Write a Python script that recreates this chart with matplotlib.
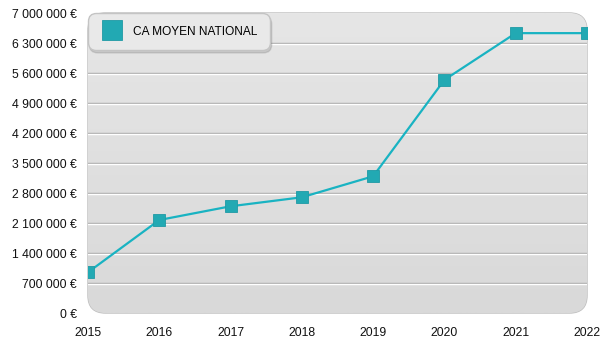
import numpy as np
import matplotlib
matplotlib.use("Agg")
import matplotlib.pyplot as plt
from matplotlib.patches import FancyBboxPatch
from matplotlib.transforms import offset_copy
from matplotlib.ticker import FuncFormatter

plt.rcParams['font.family'] = ['Liberation Sans', 'DejaVu Sans']

years = [2015, 2016, 2017, 2018, 2019, 2020, 2021, 2022]
ca_moyen = [950000, 2170000, 2490000, 2700000, 3190000, 5440000, 6530000, 6530000]
y_ticks = [0, 700000, 1400000, 2100000, 2800000, 3500000, 4200000, 4900000, 5600000, 6300000, 7000000]
series_name = "CA MOYEN NATIONAL"

line_col = "#19b3c2"
marker_col = "#22a9b3"


def euro(v, pos=None):
    s = f"{int(v):,}".replace(",", " ")
    return s + " €"


fig = plt.figure(figsize=(6, 3.5), dpi=100)
ax = fig.add_axes([88 / 600, 37 / 350, 499 / 600, 300 / 350])
ax.set_xlim(years[0], years[-1])
ax.set_ylim(0, 7000000)

# rounded grey background with a light vertical gradient
bg = FancyBboxPatch((0, 0), 1, 1, boxstyle="round,pad=0,rounding_size=0.035",
                    transform=ax.transAxes, facecolor="none", edgecolor="#bdbdbd",
                    linewidth=1.0, mutation_aspect=500 / 300, zorder=0, clip_on=False)
ax.add_patch(bg)
grad = np.linspace(0, 1, 256).reshape(-1, 1)
img = ax.imshow(grad, cmap=matplotlib.colors.LinearSegmentedColormap.from_list(
    "bg", ["#d9d9d9", "#e6e6e6"]), extent=[0, 1, 0, 1], transform=ax.transAxes,
    aspect="auto", origin="lower", zorder=0)
img.set_clip_path(bg)
ax.set_xlim(years[0], years[-1])
ax.set_ylim(0, 7000000)

ytr = ax.get_yaxis_transform()
for t in y_ticks[1:-1]:
    ax.plot([0, 1], [t, t], color="#a9a9a9", lw=1, zorder=1, transform=ytr)
    ax.plot([0, 1], [t, t], color="white", lw=1, zorder=1,
            transform=offset_copy(ytr, fig=fig, y=-1, units="dots"))

ax.plot(years, ca_moyen, color=line_col, lw=1.6, zorder=3,
        marker="s", markersize=8, markerfacecolor=marker_col,
        markeredgecolor="#1f9aa5", markeredgewidth=0.6, label=series_name)

for s in ax.spines.values():
    s.set_visible(False)
ax.set_yticks(y_ticks)
ax.yaxis.set_major_formatter(FuncFormatter(euro))
ax.set_xticks(years)
ax.tick_params(length=0, labelsize=8.8, colors="#111111")
ax.tick_params(axis="y", pad=8)
ax.tick_params(axis="x", pad=10)

leg = ax.legend(loc="upper left", bbox_to_anchor=(0.0, 1.0), borderaxespad=0,
                fontsize=8.6, frameon=True, fancybox=True,
                shadow={'color': '#777777', 'alpha': 0.25, 'ox': 1, 'oy': -2},
                handlelength=2.0, handletextpad=0.75, borderpad=1.05,
                markerscale=1.8)
leg.get_frame().set_facecolor("#e9e9e9")
leg.get_frame().set_edgecolor("#c4c4c4")
leg.get_frame().set_alpha(1)
leg.get_frame().set_boxstyle("round,pad=0,rounding_size=0.7")
for h in leg.legend_handles:
    h.set_linestyle("none")
leg.set_zorder(5)

fig.savefig("out.png", dpi=100)
